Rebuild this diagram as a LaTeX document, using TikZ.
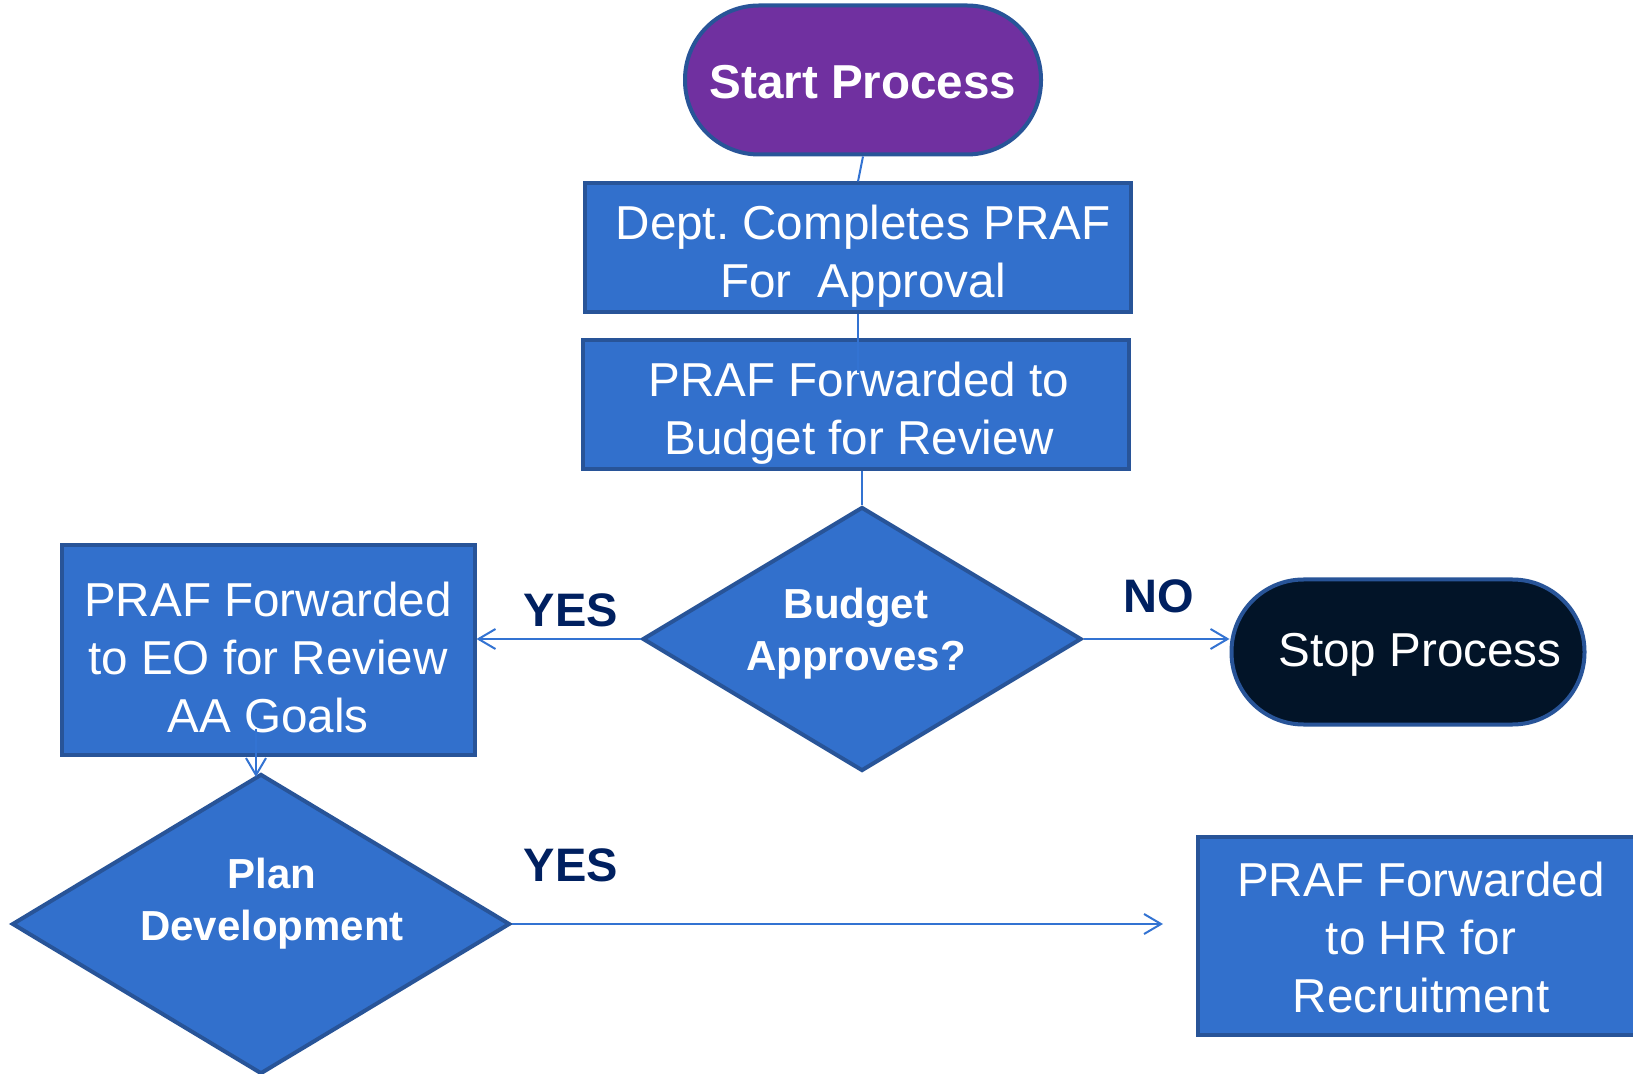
\documentclass[tikz,border=0pt]{standalone}
\usepackage{fontspec}
\setmainfont{Liberation Sans}
\usetikzlibrary{shapes.geometric,arrows.meta,calc}
\definecolor{boxfill}{RGB}{50,112,204}
\definecolor{boxline}{RGB}{40,84,152}
\definecolor{startfill}{RGB}{112,48,160}
\definecolor{stopfill}{RGB}{2,20,40}
\definecolor{lblcol}{RGB}{0,32,96}
\definecolor{conncol}{RGB}{51,115,210}
\frenchspacing
\begin{document}
\begin{tikzpicture}[x=0.5pt,y=-0.5pt,
  procbox/.style={draw=boxline, fill=boxfill, line width=2pt, inner sep=0pt},
  boxtext/.style={text=white, align=center, inner sep=0pt, font=\fontsize{23.8pt}{29pt}\selectfont},
  decision/.style={diamond, draw=boxline, fill=boxfill, line width=2pt, inner sep=0pt},
  dectext/.style={text=white, align=center, inner sep=0pt, font=\fontsize{21pt}{26pt}\selectfont\bfseries},
  lbl/.style={text=lblcol, font=\fontsize{23.5pt}{28pt}\selectfont\bfseries},
  conn/.style={draw=conncol, line width=1pt},
  arr/.style={conn, -{Straight Barb[length=8.5pt,width=10pt]}}
]
\useasboundingbox (0,0) rectangle (1633,1074);
\clip (0,0) rectangle (1633,1074);

% shapes
\node[procbox, fill=startfill, rounded corners=37pt, minimum width=178pt, minimum height=74.5pt] (start) at (863,80) {};
\node[procbox, minimum width=273pt, minimum height=64.5pt] (b1) at (858,248) {};
\node[procbox, minimum width=273pt, minimum height=64.5pt] (b2) at (856,405) {};
\node[decision, minimum width=219.5pt, minimum height=132pt] (d1) at (862,639) {};
\node[procbox, minimum width=206.5pt, minimum height=105pt] (b3) at (268,650) {};
\node[procbox, fill=stopfill, rounded corners=36pt, minimum width=176.5pt, minimum height=72.5pt] (stop) at (1408,652) {};
\node[decision, minimum width=249pt, minimum height=150pt] (d2) at (261,924) {};
\node[procbox, minimum width=223pt, minimum height=99pt] (b4) at (1421,936) {};

% texts
\node[boxtext, font=\fontsize{23.8pt}{29pt}\selectfont\bfseries] (startt) at (863,82) {Start Process};
\node[boxtext] (b1t) at (863,256) {Dept. Completes PRAF\\For~ Approval};
\node[boxtext] (b2t) at (859,413) {PRAF Forwarded to\\Budget for Review};
\node[dectext] (d1t) at (856,634) {Budget\\Approves?};
\node[boxtext] (b3t) at (268,657) {PRAF Forwarded\\to EO for Review\\AA Goals};
\node[boxtext] (stopt) at (1420,655) {Stop Process};
\node[dectext] (d2t) at (272,904) {Plan\\Development};
\node[boxtext] (b4t) at (1421,937) {PRAF Forwarded\\to HR for\\Recruitment};

\node[lbl] (yes1) at (571,610) {YES};
\node[lbl] (no1) at (1159,596) {NO};
\node[lbl] (yes2) at (571,865) {YES};

% connectors
\draw[conn] (start.south) -- (b1.north);
\draw[conn] (b1.south) -- ($(b1.south |- b2.north)+(0,35)$);
\draw[conn] (d1.north |- b2.south) -- (d1.north);
\draw[arr] (d1.west) -- (d1.west -| b3.east);
\draw[arr] (d1.east) -- (d1.east -| stop.west);
\draw[arr] ($(b3.south -| d2.north)+(-5,-28)$) -- ($(d2.north)+(-5,5)$);
\draw[arr] (d2.east) -- ($(d2.east -| b4.west)+(-33,0)$);
\end{tikzpicture}
\end{document}
